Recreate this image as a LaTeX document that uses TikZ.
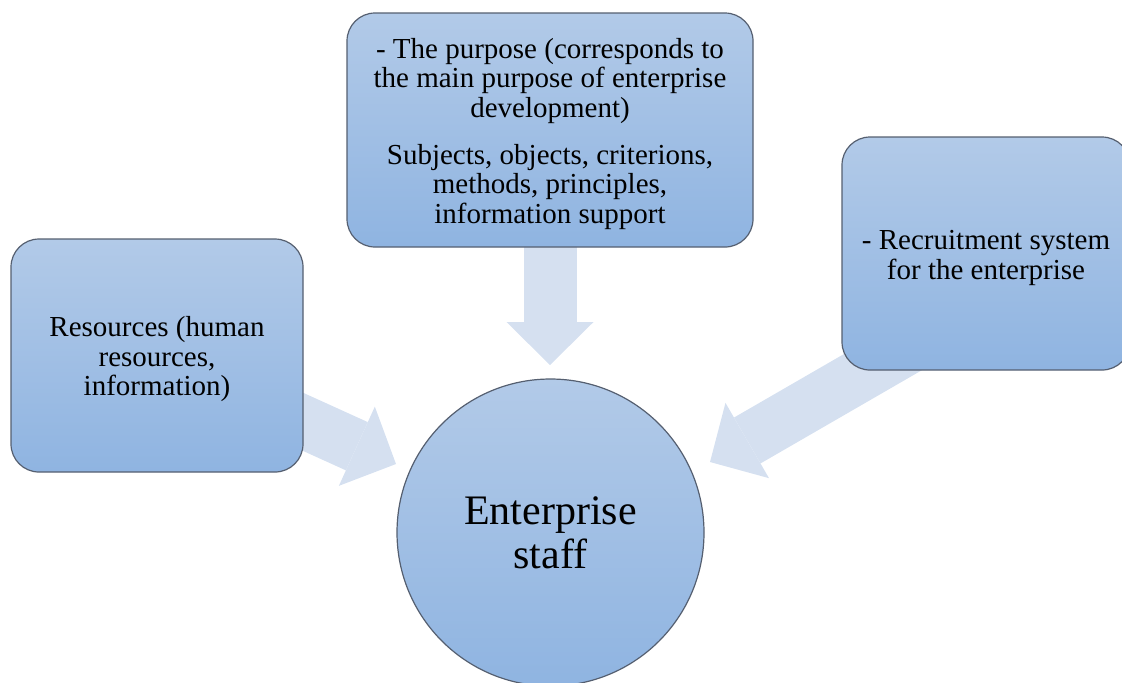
\documentclass[tikz,border=0pt]{standalone}
\usepackage{fontspec}
\setmainfont{Liberation Serif}
\usetikzlibrary{arrows.meta}
\pgfdeclarelayer{bg}
\pgfsetlayers{bg,main}
\definecolor{boxtop}{RGB}{178,202,232}
\definecolor{boxbot}{RGB}{143,180,225}
\definecolor{arrowc}{RGB}{213,224,240}
\definecolor{edgec}{RGB}{85,95,112}
\newcommand{\topstrut}{\rule{0pt}{14pt}}
\begin{document}
\begin{tikzpicture}[x=0.5pt,y=-0.5pt,
  box/.style={draw=edgec, line width=0.6pt, rounded corners=14pt,
    top color=boxtop, bottom color=boxbot, align=center,
    font=\fontsize{14.5}{14.75}\selectfont, inner sep=0pt},
  hub/.style={circle, draw=edgec, line width=0.6pt,
    top color=boxtop, bottom color=boxbot, align=center,
    font=\fontsize{21}{22}\selectfont, inner sep=0pt, minimum size=153.5pt},
  blockarrow/.style={draw=arrowc, line width=26.5pt,
    -{Triangle[width=43.5pt,length=21.5pt,line width=0pt]}}]
\useasboundingbox (0,0) rectangle (1122,682);
\node[box, minimum width=203pt, minimum height=117pt] (purpose) at (550,130)
  {\topstrut- The purpose (corresponds to\\ the main purpose of enterprise\\ development)\\[8.75pt]
   Subjects, objects, criterions,\\ methods, principles,\\ information support};
\node[box, minimum width=146pt, minimum height=116.5pt] (res) at (157,355.5)
  {\topstrut Resources (human\\ resources,\\ information)};
\node[box, minimum width=144pt, minimum height=116.5pt] (recr) at (986,253.5)
  {\topstrut- Recruitment system\\ for the enterprise};
\node[hub] (staff) at (550.5,532.5) {Enterprise\\ staff};
\coordinate (ttip) at (550,365);
\coordinate (ltip) at (396,464);
\coordinate (rtip) at (710,462);
\coordinate (rstart) at (935,332);
\begin{pgfonlayer}{bg}
\draw[blockarrow] (purpose.center) -- (ttip);
\draw[blockarrow] (res.center) -- (ltip);
\draw[blockarrow] (rstart) -- (rtip);
\end{pgfonlayer}
\end{tikzpicture}
\end{document}
